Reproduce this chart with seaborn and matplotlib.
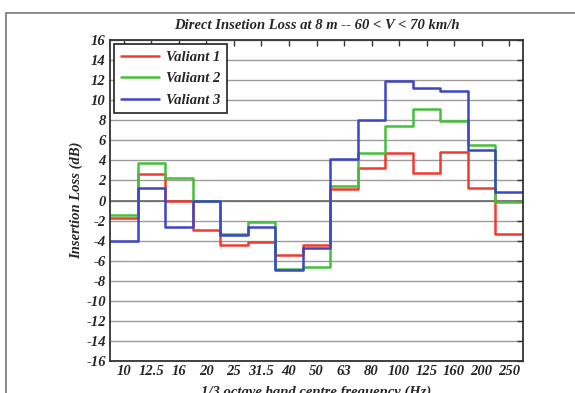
import numpy as np
import pandas as pd
import matplotlib
matplotlib.use("Agg")
import matplotlib.pyplot as plt
import seaborn as sns
from matplotlib.lines import Line2D

# 1/3 octave band centre frequencies (Hz)
bands = ['10', '12.5', '16', '20', '25', '31.5', '40', '50', '63',
         '80', '100', '125', '160', '200', '250']

# insertion loss per band (dB)
valiant_1 = [-1.7, 2.6, 0.0, -2.9, -4.4, -4.1, -5.4, -4.4, 1.1,
             3.2, 4.7, 2.7, 4.8, 1.2, -3.3]
valiant_2 = [-1.4, 3.7, 2.2, 0.0, -3.3, -2.1, -6.8, -6.6, 1.4,
             4.7, 7.4, 9.1, 7.9, 5.5, -0.1]
valiant_3 = [-4.0, 1.2, -2.6, 0.0, -3.4, -2.6, -6.9, -4.7, 4.1,
             8.0, 11.9, 11.2, 10.9, 5.0, 0.8]

series_names = ['Valiant 1', 'Valiant 2', 'Valiant 3']
series_vals = [valiant_1, valiant_2, valiant_3]
colors = ['#f03a2e', '#45c03b', '#3c45c4']

# build step data: each band drawn from its lower to its upper edge
rows = []
for name, vals in zip(series_names, series_vals):
    n = len(vals)
    for i, v in enumerate(vals):
        rows.append({'x': i - 0.5, 'y': v, 'series': name})
    rows.append({'x': n - 0.5, 'y': vals[-1], 'series': name})
df = pd.DataFrame(rows)

sns.set_style("white")
plt.rcParams['font.family'] = ['Liberation Serif', 'DejaVu Serif']
plt.rcParams['font.weight'] = 'bold'
plt.rcParams['font.style'] = 'italic'

fig = plt.figure(figsize=(5.75, 3.93), dpi=100)
ax = fig.add_axes([110 / 575, 1 - 361 / 393, 413 / 575, 321 / 393])

sns.lineplot(data=df, x='x', y='y', hue='series', palette=colors,
             drawstyle='steps-post', linewidth=1.8, ax=ax, sort=False)

ax.set_xlim(-0.5, len(bands) - 0.5)
ax.set_ylim(-16, 16)
ax.set_xticks(np.arange(len(bands)))
ax.set_xticklabels(bands)
ax.set_yticks(np.arange(-16, 17, 2))
ax.set_yticklabels([str(t) for t in range(-16, 17, 2)])
ax.yaxis.grid(True, color='#a09a9a', linewidth=1.0)
ax.xaxis.grid(False)
ax.axhline(0, color='#6a6666', linewidth=1.2, zorder=0.6)
ax.set_axisbelow(True)

ax.tick_params(direction='in', length=4, width=1, color='#333333',
               top=True, right=True, labelsize=10.5, pad=3)
for lbl in ax.get_xticklabels() + ax.get_yticklabels():
    lbl.set_fontweight('bold')
    lbl.set_fontstyle('italic')
for s in ax.spines.values():
    s.set_color('#333333')
    s.set_linewidth(1.3)

ax.set_title('Direct Insetion Loss at 8 m -- 60 < V < 70 km/h',
             fontsize=10.5, fontweight='bold', fontstyle='italic', pad=8)
ax.set_ylabel('Insertion Loss (dB)', fontsize=10.5, fontweight='bold',
              fontstyle='italic', labelpad=2)
ax.set_xlabel('1/3 octave band centre frequency (Hz)', fontsize=10.5,
              fontweight='bold', fontstyle='italic', labelpad=5)

leg = ax.legend(loc='upper left', fontsize=10.5, frameon=True, fancybox=False,
                edgecolor='#222222', framealpha=1, handlelength=2.6,
                handletextpad=0.5, borderaxespad=0.3, labelspacing=0.55,
                borderpad=0.45)
leg.get_frame().set_linewidth(1.2)
for t in leg.get_texts():
    t.set_fontweight('bold')
    t.set_fontstyle('italic')

# outer gray frame of the page
fig.add_artist(Line2D([6 / 575, 1.0], [1 - 13 / 393, 1 - 13 / 393],
                      color='#777777', linewidth=1.2, transform=fig.transFigure))
fig.add_artist(Line2D([6 / 575, 6 / 575], [0.0, 1 - 13 / 393],
                      color='#777777', linewidth=1.2, transform=fig.transFigure))

fig.savefig('out.png', dpi=100)
